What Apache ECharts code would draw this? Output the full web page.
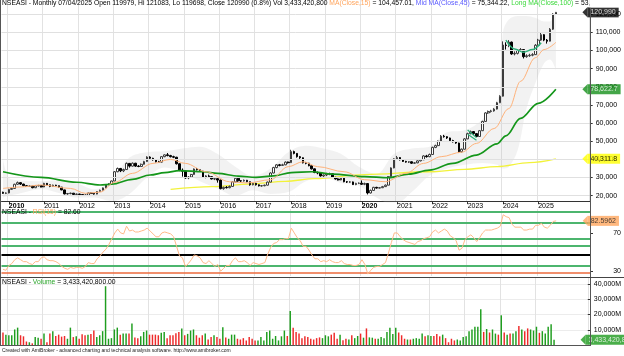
<!DOCTYPE html>
<html><head><meta charset="utf-8">
<script src="https://cdn.jsdelivr.net/npm/echarts@6/dist/echarts.min.js"></script>
<style>html,body{margin:0;padding:0;background:#fff}#c{width:624px;height:356px}</style>
</head><body><div id="c"></div>
<script>
// ---------- DATA (monthly, Nov 2009 .. Jul 2025) ----------
const open = [21900,21300,
21500,23500,24000,26300,27200,26400,25500,25100,25300,24400,25400,25600,
24800,26800,26000,25100,25800,25500,24700,23200,21000,21200,21400,20700,
20900,20600,20300,20200,21500,21200,20900,22300,23000,24300,26000,26600,
28100,33200,35000,33700,34400,37800,36300,37900,36300,36100,37300,38800,
41300,40600,39800,38700,38500,41500,42500,42100,41500,41200,37600,34000,
33500,29800,30300,31700,34700,34300,33500,30200,30900,30500,29200,29400,
28600,23900,24600,24400,25100,27600,29600,28200,28100,28500,27700,26000,
26800,26000,25400,25500,25800,27500,32500,35500,37000,36700,37000,38500,
38200,44300,43300,41500,40900,38100,37900,36500,34800,32800,32500,30900,
31400,31900,32100,30100,29200,28700,29700,27700,27500,27600,26100,26800,
26900,26300,26700,21500,22900,24600,24200,24400,25000,25800,30500,35300,
40300,41000,39800,38900,38500,38700,37900,38100,39200,39800,41900,41500,
42700,46600,47600,50000,52800,52500,51800,50400,49700,49000,44200,45600,
51300,54200,55300,54200,52600,55800,60900,65600,66400,66700,67700,71200,
74800,103000,102800,104600,98100,98400,100100,100500,96600,97100,97400,97700,
102900,105700,108700,105700,105100,111700,119979];
const high = [22200,21800,
23800,24500,26600,27800,27400,26600,25900,25700,25400,25700,26000,25800,
27100,27000,26100,26100,26000,25600,24800,23300,21500,21700,21500,21200,
21100,20800,20600,21700,21800,21400,22500,23300,24500,26300,26900,28300,
33600,35500,35300,34900,38300,38000,38300,38100,36800,37700,39200,41700,
41700,40900,40100,39200,41800,42800,43500,42500,42000,41400,37800,35000,
33700,30800,32000,35000,35300,34600,33700,31300,31600,30700,29900,29600,
28800,25000,25300,25600,27900,30000,29800,28600,28900,28700,27800,27100,
27100,26200,25900,26100,27800,32900,35900,37400,37500,37600,38900,38800,
45300,44800,43500,41900,41100,38600,38100,36700,35000,33300,32700,31700,
32600,32700,32300,30400,29600,30100,29900,28100,28000,27800,27100,27300,
28400,27200,26900,23400,24900,24900,24800,25400,26200,30800,35600,40600,
41900,41300,40100,39200,39000,38900,38500,39500,40200,42300,42500,43200,
47000,48100,50400,53400,53500,52800,52000,50800,50000,49200,46000,51700,
54700,55900,55600,54500,56200,61300,66000,66900,67300,68200,71700,75300,
105000,104500,105700,104900,99500,100800,101300,100800,97900,98200,98500,103500,
106400,109700,109000,106300,112300,120500,121083];
const low = [21000,20900,
21300,23200,23800,26000,25900,25200,24800,24800,24100,24200,25100,24600,
24700,25700,24700,24900,25200,24400,23000,20700,20500,20800,20400,20400,
20300,20000,19900,20100,21000,20600,20800,22100,22900,24100,25800,26400,
28000,32900,33000,33000,34200,35500,36000,35900,35700,35900,37100,38600,
39900,39300,38300,38000,38300,41200,41700,41100,40700,37200,33500,30500,
29300,29100,30000,31500,33900,33100,30000,29600,30100,29000,28600,27200,
23500,23300,24000,24100,24900,27300,27600,27600,27800,27400,25500,25700,
25600,25100,25000,25200,25600,27400,32300,35100,36200,36400,36800,37700,
38100,42800,41000,40300,37800,37300,36200,34400,32400,31800,30500,30300,
30800,31300,29800,28900,28400,28500,27400,27000,27100,25900,25800,26400,
26000,25800,20700,21200,22700,23900,24000,24200,24800,25700,30300,35100,
39900,39400,38600,38200,38000,37500,37600,37900,38900,39600,41000,41200,
42500,46200,47300,49700,52000,51300,50000,49300,48600,43500,43800,45400,
51100,53800,53500,52300,52400,55600,60700,65100,65800,66300,67500,71000,
74600,100500,101800,97600,97300,97800,99300,95600,96000,96500,96800,97500,
102600,105300,105100,103800,104900,111300,119698];
const close = [21300,21500,
23500,24000,26300,27200,26400,25500,25100,25300,24400,25400,25600,24800,
26800,26000,25100,25800,25500,24700,23200,21000,21200,21400,20700,20900,
20600,20300,20200,21500,21200,20900,22300,23000,24300,26000,26600,28100,
33200,35000,33700,34400,37800,36300,37900,36300,36100,37300,38800,41300,
40600,39800,38700,38500,41500,42500,42100,41500,41200,37600,34000,33500,
29800,30300,31700,34700,34300,33500,30200,30900,30500,29200,29400,28600,
23900,24600,24400,25100,27600,29600,28200,28100,28500,27700,26000,26800,
26000,25400,25500,25800,27500,32500,35500,37000,36700,37000,38500,38200,
44300,43300,41500,40900,38100,37900,36500,34800,32800,32500,30900,31400,
31900,32100,30100,29200,28700,29700,27700,27500,27600,26100,26800,26900,
26300,26700,21500,22900,24600,24200,24400,25000,25800,30500,35300,40300,
41000,39800,38900,38500,38700,37900,38100,39200,39800,41900,41500,42700,
46600,47600,50000,52800,52500,51800,50400,49700,49000,44200,45600,51300,
54200,55300,54200,52600,55800,60900,65600,66400,66700,67700,71200,74800,
103000,102800,104600,98100,98400,100100,100500,96600,97100,97400,97700,102900,
105700,108700,105700,105100,111700,119979,120990];

// volume in millions of shares, and up(1)/down(0) month
const volumeM = [8200,6800,6400,6400,10200,11400,6400,5700,2300,1800,
1100,5200,4800,4100,7500,1800,7500,9100,5900,6800,
5500,5900,4100,11400,5200,5700,4100,7000,6400,6800,
7300,9500,5200,6400,9100,38600,4100,4500,10200,11400,
6800,7500,7500,7500,14100,5000,4500,5700,8600,9500,
6800,6800,6800,6400,8000,8600,4500,6400,6400,7700,
8600,10900,6400,7300,9500,10200,6400,4800,6400,7500,
3600,5200,6400,5200,4100,11600,5000,4100,6800,6800,
4100,3600,4500,3000,5200,4100,3000,3000,5200,3000,
8600,9500,4100,5900,3000,5700,9500,5900,22300,11400,
8600,7500,4500,5700,5200,4100,3600,4500,5000,4500,
6400,5700,6800,8000,4100,6800,3200,4100,3600,6400,
4500,5900,7500,4800,10900,5000,4800,4100,4100,5200,
4500,8600,11400,7300,11400,8200,6400,4100,3600,3600,
4100,4500,4100,7500,5700,6400,5900,5900,7300,5700,
6800,4500,1800,4100,3000,3600,3000,5200,5700,9100,
10200,12000,12000,23400,8600,10500,8200,10200,7500,6800,
19500,8200,6800,7500,7500,9100,12500,10200,9100,10900,
10200,9500,12000,8000,9100,7500,12000,13600,3433.4208];
const volumeUp = [0,1,1,1,1,1,0,0,0,1, 0,1,1,0,1,0,0,1,0,0, 0,0,1,1,0,1,0,0,0,1,
0,0,1,1,1,1,1,1,1,1, 0,1,1,0,1,0,0,1,1,1, 0,0,0,0,1,1,0,0,0,0,
0,1,0,1,1,1,0,0,0,1, 0,0,1,0,0,1,0,1,1,1, 0,0,0,0,0,0,0,1,1,1,
1,1,1,1,1,1,1,0,1,0, 0,0,0,0,0,0,0,0,0,1, 1,1,0,0,0,1,0,0,1,0,
1,1,0,1,0,1,1,0,1,1, 1,1,1,1,1,0,0,0,1,0, 1,1,1,1,0,1,1,0,0,0,
1,0,0,0,0,1,1,1,1,1, 1,1,1,1,0,1,0,1,1,0, 1,0,1,0,1,1,0,1,0,0,
1,1,1,0,1,1,1,1,1];

const rsi15 = [32,31,
36,38,42,44,42,40,40,38,37,40,40,44,
45,42,41,41,40,38,35,33,32,34,33,34,
34,33,35,39,38,38,43,46,50,53,58,64,
70,74,70,69,77,72,73,71,71,72,73,75,
72,69,66,66,70,71,70,69,66,56,46,44,
35,38,42,47,46,44,39,38,41,38,35,37,
30,33,36,36,41,44,40,40,41,39,36,39,
38,37,38,39,48,55,59,60,63,63,64,64,
75,70,65,62,56,56,52,47,43,43,40,41,
40,42,40,39,39,41,38,37,37,36,36,37,
42,37,27,31,34,35,35,37,39,49,60,70,
70,66,63,61,60,59,58,61,62,64,65,66,
71,73,70,72,74,72,67,65,62,52,54,63,
66,68,65,61,65,70,73,73,73,74,75,77,
89,87,86,79,76,76,76,73,73,74,74,78,
78,80,76,75,78,82,82.5962];

// indicator lines, read at sample months
const ma15Dates = ['2009-11','2010-05','2010-12','2011-10','2012-03','2012-08','2013-01','2013-07','2014-02','2014-08','2015-01','2015-08','2016-04','2016-10','2017-06','2017-12','2018-05','2018-10','2019-07','2020-02','2020-09','2021-04','2021-10','2022-04','2022-11','2023-04','2023-10','2024-03','2024-07','2024-12','2025-03','2025-07'];
const ma15 = [24000,24800,25900,24000,21300,22000,27400,32300,37800,40000,37800,33200,27700,27000,28800,36000,38700,36000,33200,28800,27700,32300,37800,41500,44000,48800,57000,68000,83000,96000,100500,104457];
const ma45Dates = ['2009-11','2010-12','2011-12','2012-08','2012-12','2013-07','2014-01','2014-06','2014-11','2015-07','2015-12','2016-07','2017-01','2017-07','2018-01','2018-08','2019-03','2020-02','2020-10','2021-05','2021-12','2022-08','2023-04','2023-11','2024-02','2024-07','2025-01','2025-07'];
const ma45 = [33200,30100,27400,25900,26300,29000,31400,32700,33800,33200,32300,30800,30100,30900,32700,33200,31900,30500,29900,31900,34100,37800,42400,48600,53000,62600,70900,78622.7];
const ma100Dates = ['2014-08','2015-10','2016-11','2017-11','2018-09','2020-02','2021-12','2022-12','2023-11','2024-10','2025-07'];
const ma100 = [23500,25000,26400,27900,29400,31600,33200,34500,36000,38200,40311.8];
const bandDates = ['2009-11','2010-01','2010-04','2010-12','2011-06','2011-12','2012-06','2012-12','2013-06','2013-12','2014-06','2014-12','2015-06','2015-12','2016-06','2016-12','2017-06','2017-12','2018-06','2018-12','2019-06','2019-12','2020-06','2020-12','2021-06','2021-12','2022-06','2022-12','2023-06','2023-11','2023-12','2024-01','2024-03','2024-06','2024-09','2024-12','2025-03','2025-05','2025-07'];
const bandUpper = [40000,30000,28500,28000,28500,27000,23500,28500,41000,44000,44500,46000,47000,43000,36000,31000,35000,44000,47500,46000,43000,36000,32000,43000,46000,47000,55000,56000,62000,72000,80000,110000,117000,119000,119000,118000,116000,116000,123000];
const bandLower = [19000,20000,21000,23500,21500,19000,19000,17000,21000,30000,35500,33000,28000,24000,20000,23000,21000,22000,28000,30000,27000,25500,19000,15000,22000,31000,35000,37000,38000,37000,36000,35000,36000,45000,68000,82000,93000,95000,89000];
// drawn pattern lines (green)
const arcDates = ['2024-02','2024-05','2024-08','2024-11','2025-02'];
const arcValues = [105700,100800,99000,100500,104300];
const wedgeADates = ['2023-01','2023-04']; const wedgeA = [56200,52000];
const wedgeBDates = ['2023-01','2023-04']; const wedgeB = [53800,50500];

// tick labels / levels
const priceTicks = [20000,30000,40000,50000,60000,70000,80000,90000,100000,110000,120000];
const rsiTicks = [30,70];
const rsiLevels = [92,80.5,64,57,47.5,35.7,28.7];
const volumeTicks = [10000,20000,30000,40000];
const maTexts = ['104,457.01','75,344.22','53,'];

// ---------- CHART ----------
const FONT = 'Liberation Sans, Arial, Helvetica, sans-serif';
const N = close.length, SLOTS = 200;
const cats = [];
for (let k = 0; k < SLOTS; k++) { const t = 10 + k; cats.push((2009 + Math.floor(t / 12)) + '-' + String(t % 12 + 1).padStart(2, '0')); }
const isYear = (idx, val) => idx < N && String(val).slice(5) === '01';
const pair = (d, v) => d.map((x, i) => [x, v[i]]);
const fmt = (v, d) => v.toLocaleString('en-US', {maximumFractionDigits: d || 0});
const last = N - 1;

const levelColors = ['#4cb56e','#4cb56e','#4cb56e','#4cb56e','#000000','#4cb56e','#ec6a3c'];
const levelWidths = [2,2,2,2,2,2,1.5];

const GL = 1.5, GR = 34;
const grids = [
  {left: GL, right: GR, top: 0, height: 201.15},
  {left: GL, right: GR, top: 209, height: 67},
  {left: GL, right: GR, top: 278, height: 67}
];
function xAx(i, withLabels) {
  return {
    gridIndex: i, type: 'category', data: cats, boundaryGap: true,
    axisLine: {show: withLabels, lineStyle: {color: '#333', width: 1}},
    axisTick: {show: withLabels, interval: isYear, alignWithLabel: true, length: 3, lineStyle: {color: '#333'}},
    axisLabel: {show: withLabels, interval: isYear, align: 'left', margin: 1, fontSize: 7, color: '#000', fontFamily: FONT,
      formatter: v => { const y = v.slice(0, 4); return (+y % 10 === 0) ? '{b|' + y + '}' : y; },
      rich: {b: {fontWeight: 'bold', fontSize: 7, fontFamily: FONT, color: '#000'}}},
    splitLine: {show: true, interval: isYear, lineStyle: {color: '#e2e2e2', width: 1}}
  };
}
function box(xi, yi, value, text, bg, fg) {
  return {
    type: 'scatter', xAxisIndex: xi, yAxisIndex: yi, z: 20, silent: true,
    data: [[cats[last], value]],
    symbol: 'path://M0,5L5,0L5,10Z', symbolSize: [5, 10], symbolOffset: [29, 0],
    itemStyle: {color: bg},
    label: {show: true, position: 'right', distance: 0, formatter: text, backgroundColor: bg, color: fg,
      fontSize: 7, fontFamily: FONT, padding: [1, 3, 1, 3], lineHeight: 8}
  };
}
const lineS = (name, d, v, color, w, z) => ({
  name, type: 'line', xAxisIndex: 0, yAxisIndex: 0, data: pair(d, v), symbol: 'none', smooth: 0.35, smoothMonotone: 'x',
  lineStyle: {color, width: w}, z: z || 5, silent: true
});

const ohlc = open.map((o, i) => [o, close[i], low[i], high[i]]);
const volData = volumeM.map((v, i) => ({value: v, itemStyle: {color: volumeUp[i] ? '#1f9e1f' : '#ee2a2a'}}));

const volFull = Math.round(volumeM[last] * 1e6);
const title1 = 'NSEASI - Monthly 07/04/2025 Open ' + open[last] + ', Hi ' + high[last] + ', Lo ' + low[last] + ', Close ' + close[last] +
  ' (0.8%) Vol ' + fmt(volFull) + ' {o|MA(Close,15)} = ' + maTexts[0] + ', {b|Mid MA(Close,45)} = ' + maTexts[1] +
  ', {g|Long MA(Close,100)} = ' + maTexts[2];
const TFS = 6.75;

const chart = echarts.init(document.getElementById('c'), null, {renderer: 'canvas'});
chart.setOption({
  animation: false,
  backgroundColor: '#ffffff',
  textStyle: {fontFamily: FONT},
  grid: grids,
  title: [
    {left: 2, top: 0, padding: 0, z: 50, text: title1,
      textStyle: {fontSize: TFS, fontWeight: 'normal', color: '#000', fontFamily: FONT,
        rich: {o: {color: '#ffa45c', fontSize: TFS}, b: {color: '#5a5aff', fontSize: TFS}, g: {color: '#3bd83b', fontSize: TFS}}}},
    {left: 2, top: 209, padding: 0, z: 50, text: 'NSEASI - {o|RSI(15)} = ' + rsi15[last].toFixed(2),
      textStyle: {fontSize: TFS, fontWeight: 'normal', color: '#000', fontFamily: FONT, rich: {o: {color: '#ffa45c', fontSize: TFS}}}},
    {left: 2, top: 278.5, padding: 0, z: 50, text: 'NSEASI - {g|Volume} = ' + fmt(volFull) + '.00',
      textStyle: {fontSize: TFS, fontWeight: 'normal', color: '#000', fontFamily: FONT, rich: {g: {color: '#2aa52a', fontSize: TFS}}}},
    {left: 2, top: 348.5, padding: 0, z: 50, text: 'Created with AmiBroker - advanced charting and technical analysis software. http://www.amibroker.com',
      textStyle: {fontSize: 5, fontWeight: 'normal', color: '#222', fontFamily: FONT}}
  ],
  xAxis: [xAx(0, true), xAx(1, false), xAx(2, false)],
  yAxis: [
    {gridIndex: 0, type: 'value', position: 'right', min: 17000, max: 127800,
      axisLine: {show: false}, splitLine: {show: false},
      axisTick: {show: true, customValues: priceTicks, length: 3, lineStyle: {color: '#333'}},
      axisLabel: {customValues: priceTicks, formatter: v => fmt(v), fontSize: 7, color: '#000', fontFamily: FONT, margin: 6}},
    {gridIndex: 1, type: 'value', position: 'right', min: 25, max: 95,
      axisLine: {show: false}, splitLine: {show: false},
      axisTick: {show: true, customValues: rsiTicks, length: 3, lineStyle: {color: '#333'}},
      axisLabel: {customValues: rsiTicks, align: 'right', fontSize: 7, color: '#000', fontFamily: FONT, margin: 31}},
    {gridIndex: 2, type: 'value', position: 'right', min: 0, max: 44000, interval: 10000,
      axisLine: {show: false}, splitLine: {show: true, lineStyle: {color: '#ececec'}},
      axisTick: {show: true, customValues: volumeTicks, length: 3, lineStyle: {color: '#333'}},
      axisLabel: {customValues: volumeTicks, formatter: v => fmt(v) + 'M', fontSize: 7, color: '#000', fontFamily: FONT, margin: 6}}
  ],
  series: [
    {name: 'bandLow', type: 'line', xAxisIndex: 0, yAxisIndex: 0, stack: 'band', data: pair(bandDates, bandLower),
      symbol: 'none', smooth: 0.35, lineStyle: {opacity: 0}, z: 1, silent: true,
      markLine: {silent: true, symbol: ['none', 'none'], label: {show: false}, animation: false,
        lineStyle: {color: '#e0e0e0', width: 1, type: 'solid'}, data: priceTicks.map(v => ({yAxis: v}))}},
    {name: 'bandWidth', type: 'line', xAxisIndex: 0, yAxisIndex: 0, stack: 'band',
      data: bandDates.map((d, i) => [d, bandUpper[i] - bandLower[i]]),
      symbol: 'none', smooth: 0.35, lineStyle: {opacity: 0}, areaStyle: {color: 'rgba(185,185,185,0.27)'}, z: 1, silent: true},
    {name: 'price', type: 'candlestick', xAxisIndex: 0, yAxisIndex: 0, data: ohlc, barWidth: '72%', z: 4, silent: true,
      itemStyle: {color: '#ffffff', color0: '#000000', borderColor: '#3c3c3c', borderColor0: '#000000', borderWidth: 1}},
    lineS('ma100', ma100Dates, ma100, '#f2f23a', 1.3, 3),
    lineS('ma45', ma45Dates, ma45, '#14961a', 1.7, 5),
    lineS('ma15', ma15Dates, ma15, '#ffb27a', 1, 5),
    lineS('arc', arcDates, arcValues, '#2fb07a', 1.5, 6),
    Object.assign(lineS('wedgeA', wedgeADates, wedgeA, '#2fb07a', 1.2, 6), {smooth: false}),
    Object.assign(lineS('wedgeB', wedgeBDates, wedgeB, '#2fb07a', 1.2, 6), {smooth: false}),
    {name: 'rsi', type: 'line', xAxisIndex: 1, yAxisIndex: 1, data: rsi15, symbol: 'none', silent: true, z: 5,
      lineStyle: {color: '#ffb98a', width: 1},
      markLine: {silent: true, symbol: ['none', 'none'], label: {show: false}, animation: false, z: 3,
        data: rsiLevels.map((v, i) => ({yAxis: v, lineStyle: {color: levelColors[i], width: levelWidths[i], type: 'solid'}}))}},
    {name: 'volume', type: 'bar', xAxisIndex: 2, yAxisIndex: 2, data: volData, barWidth: '50%', silent: true, z: 3},
    box(0, 0, close[last], fmt(close[last]), '#000000', '#ffffff'),
    box(0, 0, ma45[ma45.length - 1], fmt(ma45[ma45.length - 1], 1), '#15901a', '#ffffff'),
    box(0, 0, ma100[ma100.length - 1], fmt(ma100[ma100.length - 1], 1), '#ffff00', '#000000'),
    box(1, 1, rsi15[last], String(rsi15[last]), '#ffa65e', '#222222'),
    box(2, 2, volumeM[last], fmt(volFull), '#1d9a1d', '#ffffff')
  ],
  graphic: [
    {type: 'rect', z: 100, shape: {x: 589.5, y: 0, width: 35, height: 7.4}, style: {fill: '#ffffff'}},
    {type: 'line', z: 90, shape: {x1: 590.5, y1: 0, x2: 590.5, y2: 346}, style: {stroke: '#555', lineWidth: 1}},
    {type: 'line', z: 90, shape: {x1: 0.5, y1: 0, x2: 0.5, y2: 346}, style: {stroke: '#555', lineWidth: 1}},
    {type: 'line', z: 90, shape: {x1: 0, y1: 277.5, x2: 624, y2: 277.5}, style: {stroke: '#444', lineWidth: 1}},
    {type: 'line', z: 90, shape: {x1: 0, y1: 345.5, x2: 590.5, y2: 345.5}, style: {stroke: '#555', lineWidth: 1}}
  ]
});
</script>
</body></html>
